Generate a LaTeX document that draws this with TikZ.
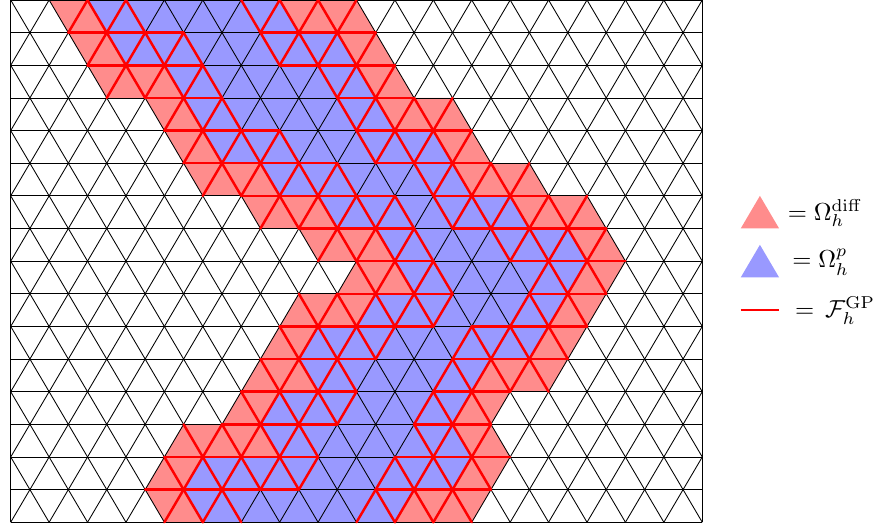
\documentclass[tikz,border=0pt]{standalone}
\usepackage{amsmath, amssymb}
\usepackage{tikz}
\definecolor{diffcol}{RGB}{255,140,140}
\definecolor{pcol}{RGB}{153,153,255}
\tikzset{
  diffcell/.style={fill=diffcol},
  pcell/.style={fill=pcol},
  meshline/.style={black, line width=0.35pt},
  gpface/.style={red, line width=1pt, line cap=round},
  legendlab/.style={anchor=base west, inner sep=0pt}
}
\begin{document}
\begin{tikzpicture}[x=7.81pt, y=13.27pt]
  \useasboundingbox (-0.557,0) rectangle (45.095,-16.146);
  % blue cells, one strip per row: top left, top right, bottom left, bottom right
  \foreach \r/\tl/\tr/\bl/\br in {0/4/14/5/15, 1/5/17/6/18, 2/8/18/9/19, 3/9/19/10/20,
      4/10/22/11/23, 5/13/23/14/24, 6/16/26/17/27, 7/19/29/20/30,
      8/20/30/21/29, 9/19/29/18/28, 10/16/28/15/27, 11/15/25/16/24,
      12/14/24/13/23, 13/13/23/14/24, 14/10/24/9/23, 15/9/21/10/20} {
    \fill[pcell] (\tl,-\r) -- (\tr,-\r) -- (\br,-\r-1) -- (\bl,-\r-1) -- cycle;
  }
  % red cells
  \foreach \r/\tl/\tr/\bl/\br in {0/2/4/3/5, 0/14/18/15/19, 1/3/5/4/6, 1/17/19/18/20,
      2/4/8/5/9, 2/18/20/19/21, 3/7/9/8/10, 3/19/23/20/24,
      4/8/10/9/11, 4/22/24/23/25, 5/9/13/10/14, 5/23/27/24/28,
      6/12/16/13/17, 6/26/30/27/31, 7/15/19/16/20, 7/29/31/30/32,
      8/18/20/17/21, 8/30/32/29/31, 9/15/19/14/18, 9/29/31/28/30,
      10/14/16/13/15, 10/28/30/27/29, 11/13/15/12/16, 11/25/29/24/28,
      12/12/14/11/13, 12/24/26/23/25, 13/9/13/8/14, 13/23/25/24/26,
      14/8/10/7/9, 14/24/26/23/25, 15/7/9/8/10, 15/21/25/20/24} {
    \fill[diffcell] (\tl,-\r) -- (\tr,-\r) -- (\br,-\r-1) -- (\bl,-\r-1) -- cycle;
  }
  % mesh
  \foreach \r in {0,...,16} {
    \draw[meshline] (0,-\r) -- (36,-\r);
  }
  \draw[meshline] (0,0) -- (0,-16) (36,0) -- (36,-16);
  \begin{scope}
    \clip (0,0) rectangle (36,-16);
    \foreach \k in {-16,-14,...,36} {
      \draw[meshline] (\k,0) -- (\k+16,-16);
    }
    \foreach \k in {0,2,...,52} {
      \draw[meshline] (\k,0) -- (\k-16,-16);
    }
  \end{scope}
  % ghost penalty faces: horizontal ones
  \foreach \r/\a/\b/\c/\d in {1/3/9/13/19, 2/4/10/14/20, 3/7/11/17/21, 4/8/14/18/24,
      5/9/17/19/25, 6/12/20/22/28, 7/15/21/23/31, 8/18/22/26/32,
      9/17/23/27/31, 10/14/22/24/30, 11/13/19/23/29, 12/12/18/22/26,
      13/11/17/21/25, 14/8/16/20/26, 15/7/15/19/25} {
    \draw[gpface] (\a,-\r) -- (\b,-\r) (\c,-\r) -- (\d,-\r);
  }
  % ghost penalty faces: slanted ones, two zigzags per row
  \foreach \r/\a/\b/\c/\d in {0/3/6/12/17, 1/4/9/13/18, 2/5/10/16/19, 3/8/11/17/22,
      4/9/14/18/23, 5/10/17/21/26, 6/13/20/22/29, 7/16/21/25/30,
      8/18/22/27/30, 9/15/22/26/29, 10/14/19/23/28, 11/13/17/22/27,
      12/12/17/21/24, 13/9/15/21/24, 14/8/15/19/24, 15/8/11/18/23} {
    \foreach \i in {\a,...,\b} {
      \draw[gpface] (\i,{-\r-mod(\i+\r,2)}) -- (\i+1,{-\r-mod(\i+1+\r,2)});
    }
    \foreach \i in {\c,...,\d} {
      \draw[gpface] (\i,{-\r-mod(\i+\r,2)}) -- (\i+1,{-\r-mod(\i+1+\r,2)});
    }
  }
  % legend
  \fill[diffcell] (39,-6) -- (38,-7) -- (40,-7) -- cycle;
  \fill[pcell] (39,-7.5) -- (38,-8.5) -- (40,-8.5) -- cycle;
  \coordinate (gpstart) at (38,-9.5);
  \coordinate (gpend) at (40,-9.5);
  \draw[red, line width=1pt] (gpstart) -- (gpend);
  \node[legendlab] (difflab) at (40.43,-6.74) {$=\Omega_h^{\mathrm{diff}}$};
  \node[legendlab] (plab) at (40.67,-8.21) {$=\Omega_h^{p}$};
  \node[legendlab] (gplab) at (40.81,-9.72) {$=\,\mathcal{F}_h^{\mathrm{GP}}$};
\end{tikzpicture}
\end{document}
